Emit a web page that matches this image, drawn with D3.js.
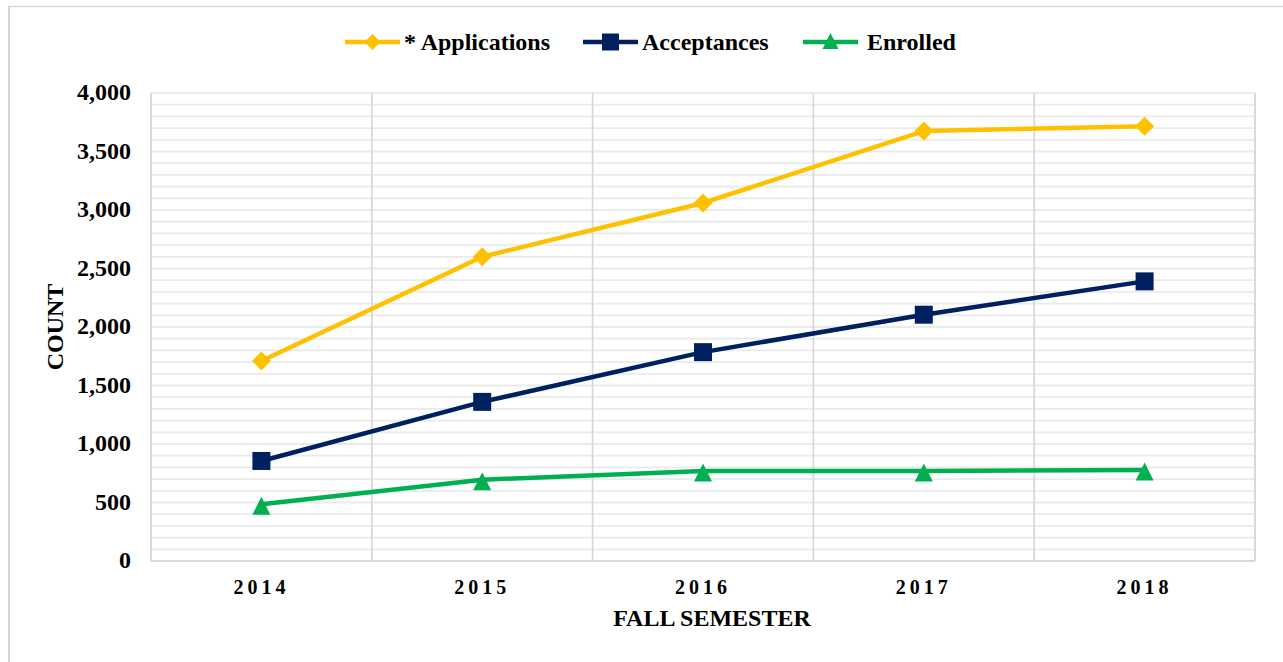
<!DOCTYPE html>
<html><head><meta charset="utf-8">
<script src="https://cdn.jsdelivr.net/npm/d3@7"></script>
<style>
html,body{margin:0;padding:0;background:#fff;}
svg{display:block;}
text{font-family:"Liberation Serif","Times New Roman",serif;font-weight:bold;fill:#000;}
</style></head>
<body>
<svg id="chart" width="1283" height="662"></svg>
<script>
const years = ["2014","2015","2016","2017","2018"];
const applications = [1710, 2600, 3060, 3675, 3715];
const acceptances = [855, 1360, 1785, 2105, 2390];
const enrolled = [485, 695, 770, 770, 778];
const yTicks = [0, 500, 1000, 1500, 2000, 2500, 3000, 3500, 4000];
const seriesNames = ["* Applications", "Acceptances", "Enrolled"];

const svg = d3.select("#chart");
const m = {left:151, right:1255, top:93, bottom:561};

// outer border
svg.append("rect").attr("x",9).attr("y",6.5).attr("width",1290).attr("height",700)
  .attr("fill","none").attr("stroke","#d9d9d9").attr("stroke-width",1.5);
svg.append("line").attr("x1",9).attr("x2",9).attr("y1",6).attr("y2",662)
  .attr("stroke","#d4d4d4").attr("stroke-width",2);

const x = d3.scaleBand().domain(years).range([m.left, m.right]).paddingInner(0).paddingOuter(0);
const y = d3.scaleLinear().domain([0, 4000]).range([m.bottom, m.top]);

// minor horizontal gridlines every 100
const minor = d3.range(100, 4001, 100);
svg.append("g").selectAll("line").data(minor).join("line")
  .attr("x1", m.left).attr("x2", m.right)
  .attr("y1", d => y(d)).attr("y2", d => y(d))
  .attr("stroke", "#eaeaea").attr("stroke-width", 1.8);

// vertical category boundaries
svg.append("g").selectAll("line").data(years.slice(1)).join("line")
  .attr("x1", d => x(d)).attr("x2", d => x(d))
  .attr("y1", m.top).attr("y2", m.bottom)
  .attr("stroke", "#d6d6d6").attr("stroke-width", 1.6);

// plot edges
svg.append("line").attr("x1", m.left).attr("x2", m.left).attr("y1", m.top).attr("y2", m.bottom)
  .attr("stroke", "#d9d9d9").attr("stroke-width", 2);
svg.append("line").attr("x1", m.right).attr("x2", m.right).attr("y1", m.top).attr("y2", m.bottom)
  .attr("stroke", "#d9d9d9").attr("stroke-width", 2);
svg.append("line").attr("x1", m.left).attr("x2", m.right).attr("y1", m.bottom).attr("y2", m.bottom)
  .attr("stroke", "#d9d9d9").attr("stroke-width", 2);

// y axis
const yAxis = d3.axisLeft(y).tickValues(yTicks).tickSize(0).tickPadding(20).tickFormat(d3.format(","));
const gy = svg.append("g").attr("transform", `translate(${m.left},0)`).call(yAxis);
gy.select(".domain").remove();
gy.selectAll("text").style("font-size","24px").style("font-family","'Liberation Serif',serif").style("font-weight","bold").attr("fill","#000")
  .attr("dy","0.28em");

// x axis
const xAxis = d3.axisBottom(x).tickSize(0).tickPadding(19);
const gx = svg.append("g").attr("transform", `translate(0,${m.bottom})`).call(xAxis);
gx.select(".domain").remove();
gx.selectAll("text").style("font-size","20px").style("letter-spacing","4px")
  .style("font-family","'Liberation Serif',serif").style("font-weight","bold").attr("fill","#000");

// axis titles
svg.append("text").attr("x", 712).attr("y", 626).attr("text-anchor","middle")
  .style("font-size","24px").text("FALL SEMESTER");
svg.append("text").attr("transform", `translate(63,${(m.top+m.bottom)/2}) rotate(-90)`)
  .attr("text-anchor","middle").style("font-size","24px").text("COUNT");

const colors = ["#FFC000", "#002060", "#00B050"];
function markerPath(s, w) {
  const h = w / 2;
  if (s === 0) return `M0,${-h}L${h},0L0,${h}L${-h},0Z`;
  if (s === 1) return `M${-h},${-h}H${h}V${h}H${-h}Z`;
  return `M0,${-h}L${h},${h}H${-h}Z`;
}
const data = [applications, acceptances, enrolled];
const markW = [19, 18, 18];

const cx = d => x(d) + x.bandwidth()/2;
const line = d3.line().x((d,i) => cx(years[i])).y(d => y(d));

data.forEach((vals, s) => {
  svg.append("path").datum(vals).attr("d", line)
    .attr("fill","none").attr("stroke", colors[s]).attr("stroke-width", 4.5).attr("stroke-linejoin","round");
  svg.append("g").selectAll("path").data(vals).join("path")
    .attr("transform", (d,i) => `translate(${cx(years[i])},${y(d) + (s===2 ? 1.5 : 0)})`)
    .attr("d", markerPath(s, markW[s]))
    .attr("fill", colors[s]);
});

// legend
const legX = [345, 583, 803];
const textOff = [59, 59, 64];
const legY = 42;
seriesNames.forEach((name, s) => {
  const g = svg.append("g").attr("transform", `translate(${legX[s]},${legY})`);
  g.append("line").attr("x1",0).attr("x2",55).attr("y1",0).attr("y2",0)
    .attr("stroke", colors[s]).attr("stroke-width",4.5);
  g.append("path").attr("transform", `translate(27.5,${s===2?-1:0})`)
    .attr("d", markerPath(s, s===1 ? 17 : 16)).attr("fill", colors[s]);
  g.append("text").attr("x", textOff[s]).attr("y", 8).style("font-size","24px").text(name);
});
</script>
</body></html>
